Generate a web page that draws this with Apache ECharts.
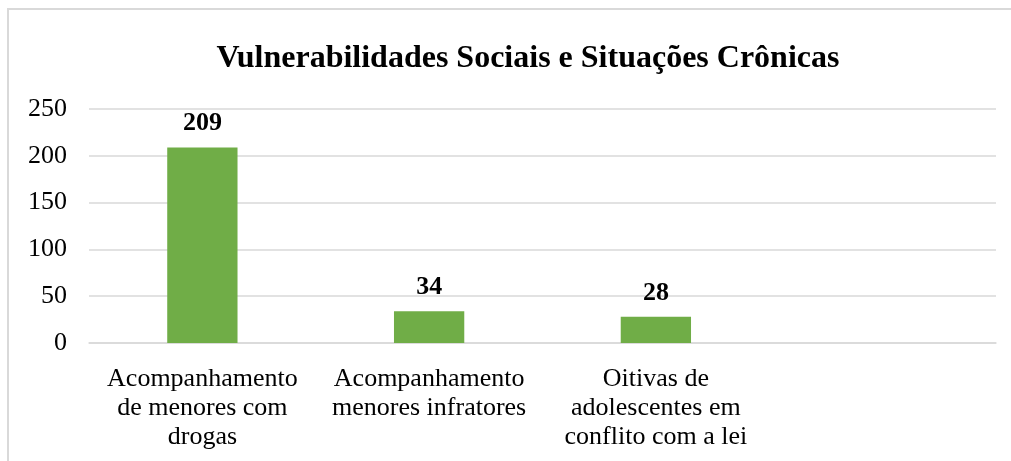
<!DOCTYPE html>
<html>
<head>
<meta charset="utf-8">
<script src="https://cdn.jsdelivr.net/npm/echarts@6/dist/echarts.min.js"></script>
<style>
    html, body { margin: 0; padding: 0; background: #fff; }
    #chart { width: 1011px; height: 461px; }
</style>
</head>
<body>
<div id="chart"></div>
<script>
const categories = [
    'Acompanhamento\nde menores com\ndrogas',
    'Acompanhamento\nmenores infratores',
    'Oitivas de\nadolescentes em\nconflito com a lei',
    ''
];
const values = [209, 34, 28, null];
const yTicks = [0, 50, 100, 150, 200, 250];

const font = '"Liberation Serif", "Times New Roman", serif';

const gridLine = {
    show: true,
    lineStyle: {
        color: '#d9d9d9',
        width: 1.5,
        type: 'solid'
    }
}

const option = {
    animation: false,
    backgroundColor: '#fff',
    title: {
        text: 'Vulnerabilidades Sociais e Situações Crônicas',
        left: 523,
        textAlign: 'center',
        top: 38,
        textStyle: {
            fontFamily: font,
            fontWeight: 'bold',
            fontSize: 32,
            color: '#000'
        }
    },
    graphic: [
        {
            type: 'rect',
            shape: { x: 8, y: 9, width: 1020, height: 470 },
            style: { fill: 'none', stroke: '#d9d9d9', lineWidth: 2 },
            silent: true
        }
    ],
    grid: {
        left: 89,
        right: 15,
        top: 109,
        bottom: 118
    },
    xAxis: {
        type: 'category',
        data: categories,
        axisLine: gridLine,
        axisTick: { show: false },
        axisLabel: {
            interval: 0,
            margin: 22,
            fontFamily: font,
            fontSize: 26,
            lineHeight: 29,
            color: '#000'
        }
    },
    yAxis: {
        type: 'value',
        min: yTicks[0],
        max: yTicks[yTicks.length - 1],
        interval: 50,
        axisLine: { show: false },
        axisTick: { show: false },
        splitLine: gridLine,
        axisLabel: {
            margin: 22,
            fontFamily: font,
            fontSize: 26,
            color: '#000'
        }
    },
    series: [
        {
            type: 'bar',
            data: values,
            barWidth: '31%',
            itemStyle: {
                color: '#70ad47'
            },
            label: {
                show: true,
                position: 'top',
                distance: 11,
                fontFamily: font,
                fontWeight: 'bold',
                fontSize: 26,
                color: '#000'
            }
        }
    ]
}

const chart = echarts.init(document.getElementById('chart'));
chart.setOption(option);
window.addEventListener('resize', () => {
    chart.resize();
})
</script>
</body>
</html>
